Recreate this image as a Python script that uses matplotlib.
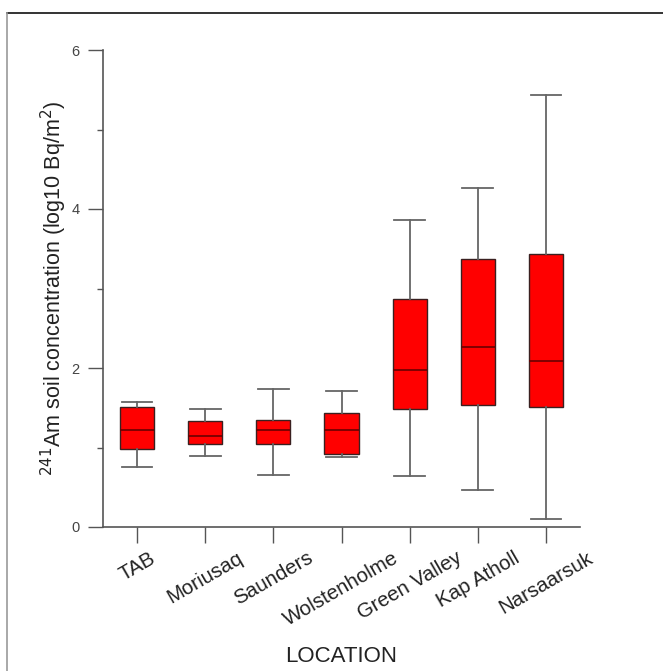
import matplotlib
matplotlib.use("Agg")
import matplotlib.pyplot as plt
from matplotlib.lines import Line2D
from matplotlib.ticker import MultipleLocator

plt.rcParams['font.family'] = ['Liberation Sans', 'DejaVu Sans']

locations = ["TAB", "Moriusaq", "Saunders", "Wolstenholme", "Green Valley", "Kap Atholl", "Narsaarsuk"]
whisker_low = [0.75, 0.89, 0.65, 0.88, 0.64, 0.46, 0.10]
q1 = [0.98, 1.05, 1.05, 0.92, 1.49, 1.54, 1.51]
median = [1.22, 1.14, 1.22, 1.22, 1.97, 2.26, 2.09]
q3 = [1.51, 1.33, 1.35, 1.43, 2.87, 3.37, 3.44]
whisker_high = [1.57, 1.48, 1.74, 1.71, 3.86, 4.26, 5.44]

fig = plt.figure(figsize=(6.63, 6.71), dpi=100)
ax = fig.add_axes([103/663, 1 - 527/671, (580-103)/663, (527-50)/671])

stats = []
for i, name in enumerate(locations):
    stats.append(dict(label=name, whislo=whisker_low[i], q1=q1[i], med=median[i],
                      q3=q3[i], whishi=whisker_high[i], fliers=[]))

positions = list(range(1, len(locations) + 1))
ax.bxp(stats, positions=positions, widths=0.5, capwidths=0.45, patch_artist=True,
       showfliers=False,
       boxprops=dict(facecolor='#ff0000', edgecolor='#3a2020', linewidth=1.0),
       medianprops=dict(color='#6a0000', linewidth=1.2),
       whiskerprops=dict(color='#666666', linewidth=1.3),
       capprops=dict(color='#666666', linewidth=1.3))

ax.set_xlim(0.5, 7.5)
ax.set_ylim(0, 6)
ax.set_yticks([0, 2, 4, 6])
ax.yaxis.set_minor_locator(MultipleLocator(1))
ax.set_xticks(positions)
ax.set_xticklabels(locations, rotation=30, ha='center', va='top', fontsize=14.8, color='#222222')

for s in ['top', 'right']:
    ax.spines[s].set_visible(False)
for s in ['left', 'bottom']:
    ax.spines[s].set_color('#555555')
    ax.spines[s].set_linewidth(1.2)

ax.tick_params(axis='y', which='major', length=11, width=1.0, color='#555555',
               labelsize=10.5, labelcolor='#444444', pad=6)
ax.tick_params(axis='y', which='minor', length=4.5, width=1.0, color='#555555')
ax.tick_params(axis='x', which='major', length=11.5, width=1.0, color='#555555', pad=4)

ax.set_ylabel(r'$^{241}$Am soil concentration (log10 Bq/m$^{2}$)', fontsize=15.5, color='#222222')
ax.yaxis.set_label_coords((69 - 103) / (580 - 103), 0.5)
ax.set_xlabel('LOCATION', fontsize=16, color='#222222')
ax.xaxis.set_label_coords(0.5, -(656 - 527) / (527 - 50))
ax.xaxis.label.set_va('center')

fig.add_artist(Line2D([7/663, 1.0], [1 - 13/671, 1 - 13/671], transform=fig.transFigure,
                      color='#111111', linewidth=1.2))
fig.add_artist(Line2D([7/663, 7/663], [0, 1 - 13/671], transform=fig.transFigure,
                      color='#999999', linewidth=1.2))

fig.savefig('out.png', dpi=100)
